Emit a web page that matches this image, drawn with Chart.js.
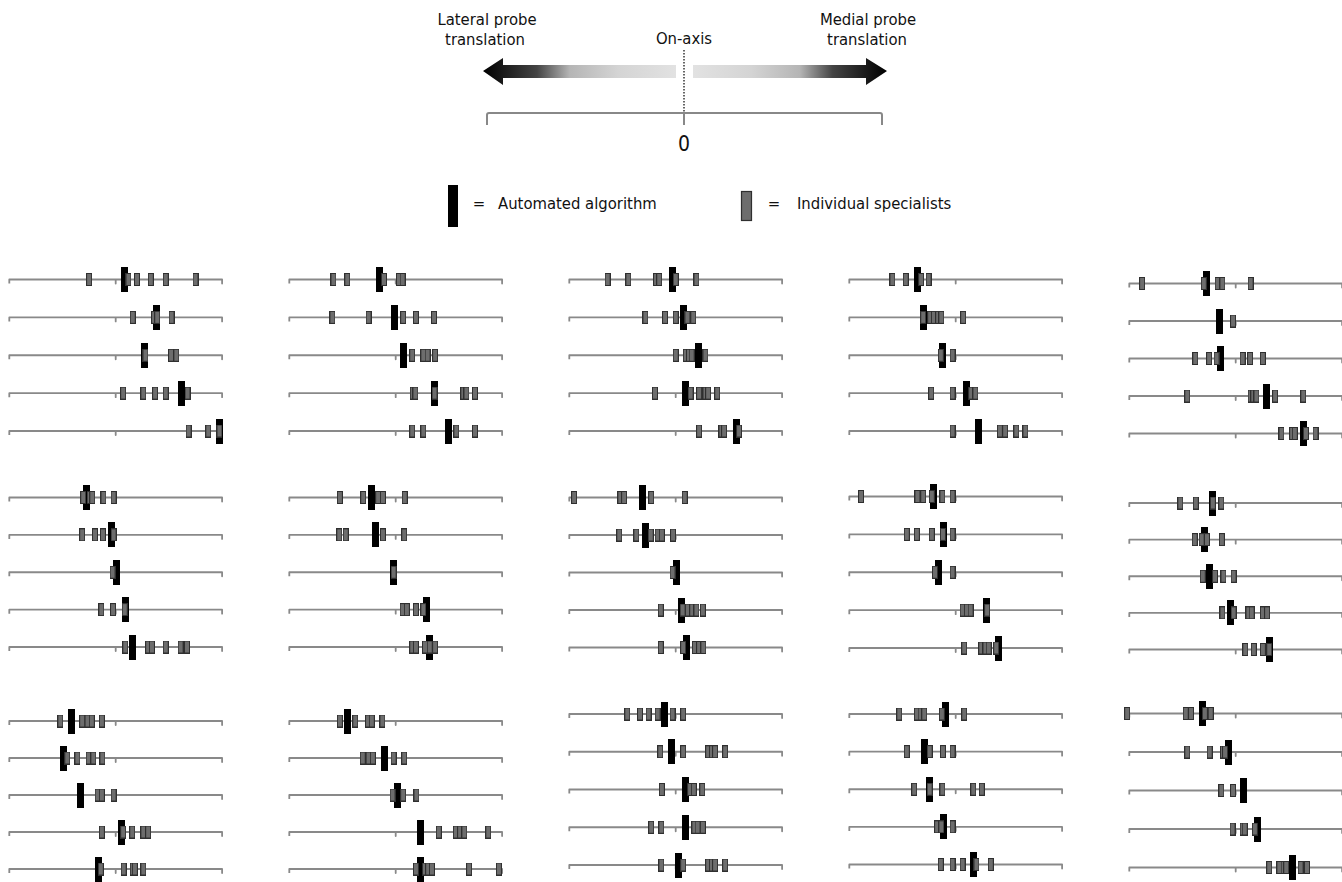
<!DOCTYPE html>
<html><head><meta charset="utf-8">
<script src="https://cdn.jsdelivr.net/npm/chart.js@4.4.1/dist/chart.umd.min.js"></script>
<style>
html,body{margin:0;padding:0;background:#fff;width:1342px;height:882px;overflow:hidden;}
#wrap{position:relative;width:1342px;height:882px;overflow:hidden;}
canvas.panel{position:absolute;}
svg{position:absolute;left:0;top:0;}
.t{font-family:"DejaVu Sans Condensed","DejaVu Sans",sans-serif;fill:#111;}
</style></head><body><div id="wrap">
<svg width="1342" height="240" viewBox="0 0 1342 240">
  <defs>
    <linearGradient id="gl" gradientUnits="userSpaceOnUse" x1="483" y1="0" x2="676" y2="0">
      <stop offset="0" stop-color="#000"/>
      <stop offset="0.28" stop-color="#444"/>
      <stop offset="0.45" stop-color="#b5b5b5"/>
      <stop offset="0.7" stop-color="#d4d4d4"/>
      <stop offset="1" stop-color="#e2e2e2"/>
    </linearGradient>
    <linearGradient id="gr" gradientUnits="userSpaceOnUse" x1="693" y1="0" x2="887" y2="0">
      <stop offset="0" stop-color="#e2e2e2"/>
      <stop offset="0.3" stop-color="#d4d4d4"/>
      <stop offset="0.55" stop-color="#b5b5b5"/>
      <stop offset="0.72" stop-color="#444"/>
      <stop offset="1" stop-color="#000"/>
    </linearGradient>
  </defs>
  <text class="t" x="487" y="25" font-size="16.5" text-anchor="middle">Lateral probe</text>
  <text class="t" x="485" y="45" font-size="16.5" text-anchor="middle">translation</text>
  <text class="t" x="684" y="44" font-size="16.5" text-anchor="middle">On-axis</text>
  <text class="t" x="868" y="25" font-size="16.5" text-anchor="middle">Medial probe</text>
  <text class="t" x="867" y="45" font-size="16.5" text-anchor="middle">translation</text>
  <polygon points="483,71 503,58 503,65 676,65 676,78 503,78 503,85" fill="url(#gl)"/>
  <polygon points="693,65 866,65 866,58 887,71 866,85 866,78 693,78" fill="url(#gr)"/>
  <line x1="684" y1="50" x2="684" y2="113" stroke="#000" stroke-width="1.2" stroke-dasharray="1.5,1.5"/>
  <path d="M487,125 L487,115 Q487,113 489,113 L880,113 Q882,113 882,115 L882,125" fill="none" stroke="#888" stroke-width="2"/>
  <line x1="684" y1="113" x2="684" y2="125" stroke="#888" stroke-width="2"/>
  <text class="t" x="684" y="151" font-size="21" text-anchor="middle">0</text>
  <rect x="448" y="185" width="10" height="42" fill="#000"/>
  <text class="t" x="479" y="209" font-size="16.5" text-anchor="middle">=</text>
  <text class="t" x="498" y="209" font-size="16.5">Automated algorithm</text>
  <rect x="741.5" y="191.5" width="10" height="29" fill="#6d6d6d" stroke="#2f2f2f" stroke-width="1.2"/>
  <text class="t" x="774" y="209" font-size="16.5" text-anchor="middle">=</text>
  <text class="t" x="797" y="209" font-size="16.5">Individual specialists</text>
</svg>
</div>
<script>
// ---- DATA ----
const rows = [1, 2, 3, 4, 5];
const axisTicks = [-10, 0, 10];

// automated algorithm position per panel (15 panels: 3 groups x 5 columns), per row
const algorithm = [
  [0.84, 3.81, 2.66, 6.19, 9.75],
  [-1.55, -0.15, 0.75, 3.65, 4.95],
  [-0.3, 0.7, 2.15, 0.95, 5.7],
  [-3.55, -3.05, -1.2, 1.05, 2.1],
  [-2.7, -1.55, -1.4, 2.9, 6.4],
  [-2.7, -0.35, 0.05, 0.9, 1.55],
  [-2.25, -1.9, -0.2, 2.9, 3.2],
  [-3.1, -2.85, 0.05, 0.55, 1.05],
  [-2.05, -1.15, -1.6, 2.9, 4.0],
  [-2.15, -2.9, -2.45, -0.45, 3.2],
  [-4.15, -4.95, -3.3, 0.55, -1.65],
  [-4.55, -1.05, 0.2, 2.35, 2.35],
  [-1.05, -0.4, 0.95, 0.95, 0.3],
  [-1.0, -2.9, -2.45, -1.15, 1.7],
  [-3.1, -0.7, 0.7, 2.05, 5.3]
];

// individual specialists positions per panel, per row
const specialists = [
  [[-2.5, 1.2, 2.0, 3.3, 4.7, 7.5], [1.6, 3.6, 3.9, 5.25], [2.8, 5.2, 5.7], [0.7, 2.6, 3.7, 4.7, 6.75], [6.85, 8.7, 9.75]],
  [[-5.85, -4.55, -1.1, 0.3, 0.65], [-5.95, -2.55, 0.7, 1.9, 3.6], [1.55, 2.6, 3.0, 3.7], [1.6, 1.85, 3.65, 6.35, 6.65, 7.45], [1.55, 2.6, 5.7, 7.45]],
  [[-6.4, -4.45, -1.85, -1.55, 0, 1.95], [-2.85, -1.0, 0, 1.1, 1.65], [0, 0.95, 1.25, 1.5, 2.8], [-1.95, 1.4, 2.2, 2.8, 3.05, 3.9], [2.2, 4.3, 4.55, 5.95]],
  [[-5.95, -4.7, -3.25, -2.55], [-3.05, -2.4, -2.05, -1.65, -1.35, 0.7], [-1.4, -0.3], [-2.3, -0.3, 1.45, 1.85], [-0.3, 4.15, 4.65, 5.7, 6.55]],
  [[-8.8, -3.0, -1.7, -1.25, 1.4], [-0.25], [-3.8, -2.5, -1.8, 0.65, 1.35, 2.55], [-4.55, 1.4, 1.65, 1.95, 3.7, 6.35], [4.3, 5.3, 5.55, 6.6, 7.5]],
  [[-3.05, -2.45, -2.2, -1.15, -0.2], [-3.15, -1.95, -1.2, -0.2], [-0.3], [-1.35, -0.25, 0.85], [0.9, 3.05, 3.4, 4.7, 6.1, 6.7]],
  [[-5.25, -3.05, -1.65, -1.2, 0.85], [-5.3, -4.7, -1.2, 0.8], [-0.2], [0.65, 1.05, 1.9, 2.6], [1.55, 1.9, 2.75, 3.2, 3.7]],
  [[-9.55, -5.2, -4.85, -2.3, 0.85], [-5.3, -3.7, -2.35, -1.7, -1.3, -0.25], [-0.3], [-1.4, 0.65, 1.15, 1.55, 1.95, 2.55], [-1.4, 0.7, 1.8, 2.2, 2.6]],
  [[-8.9, -3.6, -3.05, -2.25, -1.25, -0.3], [-4.6, -3.65, -2.25, -1.2, -0.3], [-1.95, -0.3], [0.65, 1.05, 1.4, 2.95], [0.8, 2.4, 2.8, 3.1, 3.8]],
  [[-5.2, -3.75, -2.15, -1.35], [-3.85, -3.2, -2.7, -1.3], [-3.1, -1.95, -1.15, -0.2], [-1.25, -0.2, 1.2, 1.5, 2.55, 2.95], [0.9, 1.7, 2.55, 3.15]],
  [[-5.2, -3.15, -2.65, -2.25, -1.3], [-4.55, -3.6, -2.55, -2.1, -1.25], [-1.7, -1.3, -0.2], [-1.3, 0.7, 1.55, 2.6, 3.05], [-1.4, 0.75, 1.6, 1.8, 2.6]],
  [[-5.25, -3.8, -2.6, -2.25, -1.25], [-3.1, -2.55, -2.15, -0.2, 0.8], [-0.3, 0.7, 1.95], [4.05, 5.65, 6.05, 6.45, 8.7], [1.9, 2.75, 3.05, 3.4, 6.9, 9.7]],
  [[-4.55, -3.35, -2.55, -1.7, -0.3, 0.7], [-1.45, 0.7, 3.05, 3.4, 3.7, 4.65], [-1.3, 1.35, 1.7, 2.5], [-2.3, -1.35, 1.75, 2.05, 2.55], [-1.35, 0.7, 3.05, 3.4, 3.7, 4.65]],
  [[-5.3, -3.65, -3.3, -2.95, -1.3, 0.8], [-4.6, -2.45, -1.2, -0.3], [-3.9, -2.45, -1.25, 1.65, 2.45], [-1.75, -1.35, -0.3], [-1.4, -0.3, 0.65, 1.95, 3.3]],
  [[-10.2, -4.7, -4.2, -2.9, -2.35], [-4.55, -2.45, -1.2, -1.0], [-1.35, -0.25], [-0.3, 0.65, 0.85, 1.8], [3.15, 4.1, 4.5, 4.75, 6.1, 6.7]]
];

// ---- LAYOUT (pixels) ----
const colCenters = [115.7, 395.7, 675.7, 955.7, 1235.7];
const rowSpans = [
  [279.5, 431], [279.5, 431], [279.5, 431], [279.5, 431], [283.5, 433.5],
  [497.5, 647], [497.5, 647], [497.5, 647.5], [496.5, 648], [503, 649.5],
  [721, 869], [721, 869], [714, 865], [714, 864.5], [713.5, 867.5]
];
const unitPx = 10.64;
const canvasW = 234;

function makeMark(w, h, fill, stroke) {
  const c = document.createElement('canvas');
  c.width = w; c.height = h;
  const g = c.getContext('2d');
  g.fillStyle = stroke; g.fillRect(0, 0, w, h);
  g.fillStyle = fill; g.fillRect(1, 1, w - 2, h - 2);
  return c;
}
const grayMark = makeMark(6, 13, '#6d6d6d', '#2f2f2f');
const blackMark = makeMark(7, 25, '#000000', '#000000');

const wrap = document.getElementById('wrap');
for (let p = 0; p < 15; p++) {
  const center = colCenters[p % 5];
  const [y1, y5] = rowSpans[p];
  const left = Math.round(center - canvasW / 2);
  const top = Math.round(y1 - 26);
  const H = Math.round(y5 + 26) - top;
  const k = (y5 - y1) / 4;
  const ymin = 1 - (y1 - top) / k;
  const ymax = ymin + H / k;
  const xmin = -(center - left) / unitPx;
  const xmax = (left + canvasW - center) / unitPx;
  const drop = 4 / k;

  const cv = document.createElement('canvas');
  cv.className = 'panel';
  cv.width = canvasW; cv.height = H;
  cv.style.left = left + 'px'; cv.style.top = top + 'px';
  cv.style.width = canvasW + 'px'; cv.style.height = H + 'px';
  wrap.appendChild(cv);

  const datasets = [];
  rows.forEach(r => {
    const [a, m, b] = axisTicks;
    datasets.push({
      showLine: true,
      data: [{x: a, y: r + drop}, {x: a, y: r}, {x: m, y: r}, {x: m, y: r + drop}, {x: m, y: r}, {x: b, y: r}, {x: b, y: r + drop}],
      borderColor: '#898989', borderWidth: 1.8, pointRadius: 0, order: 3,
      borderJoinStyle: 'round', borderCapStyle: 'butt'
    });
  });
  datasets.push({
    data: rows.map((r, i) => ({x: algorithm[p][i], y: r})),
    pointStyle: blackMark, pointRadius: 4, order: 2
  });
  datasets.push({
    data: rows.flatMap((r, i) => specialists[p][i].map(v => ({x: v, y: r}))),
    pointStyle: grayMark, pointRadius: 4, order: 1
  });

  new Chart(cv, {
    type: 'scatter',
    data: {datasets},
    options: {
      responsive: false, animation: false, devicePixelRatio: 1, events: [],
      layout: {padding: 0, autoPadding: false},
      plugins: {legend: {display: false}, tooltip: {enabled: false}},
      scales: {
        x: {type: 'linear', min: xmin, max: xmax, display: false},
        y: {type: 'linear', min: ymin, max: ymax, reverse: true, display: false}
      }
    }
  });
}
</script>
</body></html>
